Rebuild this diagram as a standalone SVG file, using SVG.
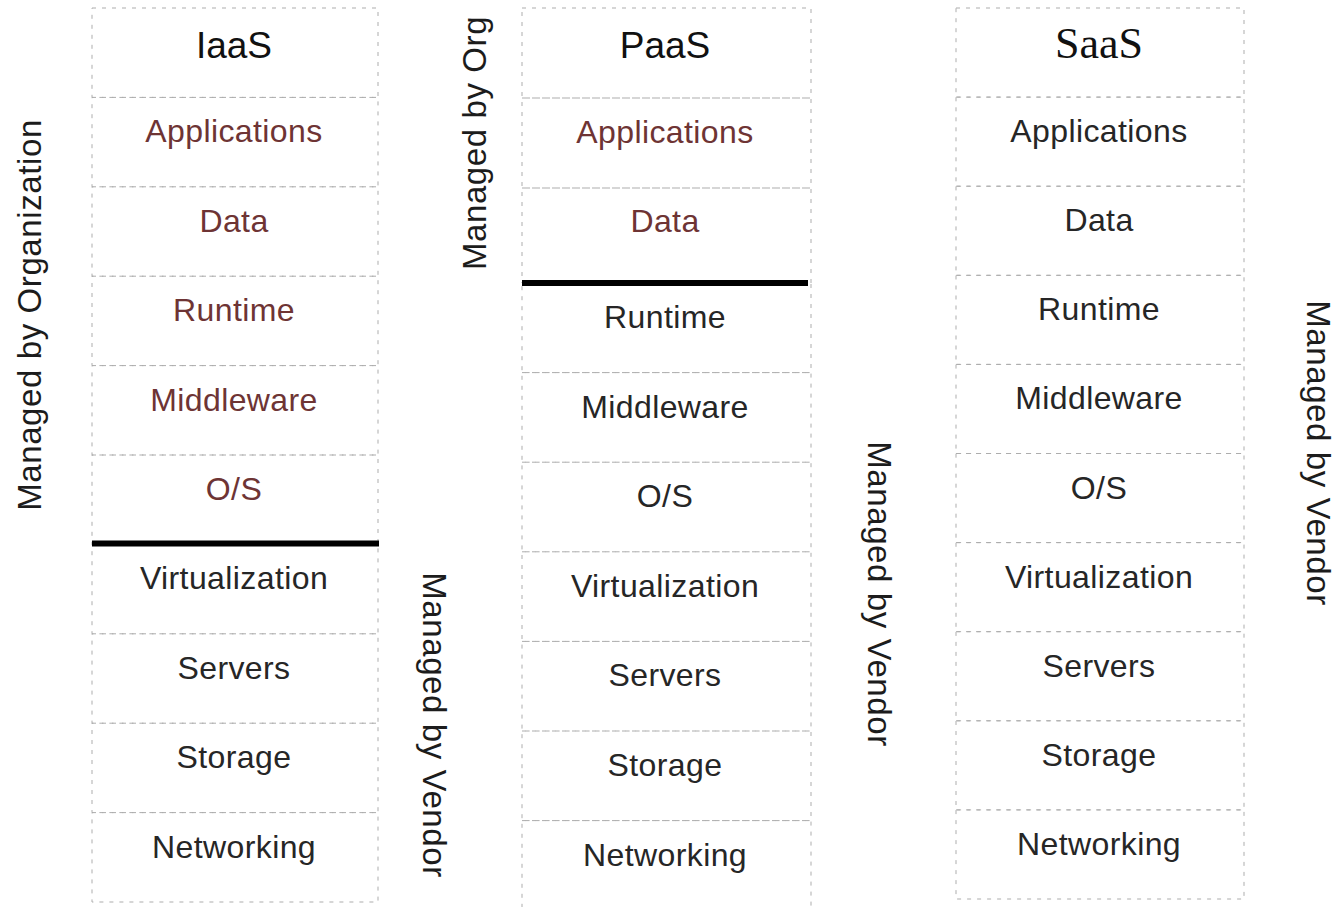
<svg xmlns="http://www.w3.org/2000/svg" width="1336" height="907" viewBox="0 0 1336 907">
  <style>
    .cell { fill: none; stroke: #adadad; stroke-width: 1; stroke-dasharray: 4 6; }
    .head { font-family: "Liberation Sans", Arial, sans-serif; font-size: 37px; fill: #111; text-anchor: middle; }
    .head-serif { font-family: "Liberation Serif", "Times New Roman", serif; font-size: 44px; fill: #111; text-anchor: middle; }
    .item { font-family: "Liberation Sans", Arial, sans-serif; font-size: 32px; letter-spacing: 0.4px; fill: #262626; text-anchor: middle; }
    .org { fill: #6e3434; }
    .side { font-family: "Liberation Sans", Arial, sans-serif; font-size: 33px; letter-spacing: 0.6px; fill: #1c1c1c; text-anchor: middle; }
    .divider { stroke: #000; stroke-width: 6; }
  </style>

  <!-- IaaS stack -->
  <g id="iaas">
    <g id="iaas-header"><rect class="cell" x="92" y="8" width="286" height="89.4"/><text class="head" x="234" y="58">IaaS</text></g>
    <g id="iaas-applications"><rect class="cell" x="92" y="97.4" width="286" height="89.4"/><text class="item org" x="234" y="142.4">Applications</text></g>
    <g id="iaas-data"><rect class="cell" x="92" y="186.8" width="286" height="89.4"/><text class="item org" x="234" y="231.8">Data</text></g>
    <g id="iaas-runtime"><rect class="cell" x="92" y="276.2" width="286" height="89.4"/><text class="item org" x="234" y="321.2">Runtime</text></g>
    <g id="iaas-middleware"><rect class="cell" x="92" y="365.6" width="286" height="89.4"/><text class="item org" x="234" y="410.6">Middleware</text></g>
    <g id="iaas-os"><rect class="cell" x="92" y="455" width="286" height="89.4"/><text class="item org" x="234" y="500">O/S</text></g>
    <g id="iaas-virtualization"><rect class="cell" x="92" y="544.4" width="286" height="89.4"/><text class="item" x="234" y="589.4">Virtualization</text></g>
    <g id="iaas-servers"><rect class="cell" x="92" y="633.8" width="286" height="89.4"/><text class="item" x="234" y="678.8">Servers</text></g>
    <g id="iaas-storage"><rect class="cell" x="92" y="723.2" width="286" height="89.4"/><text class="item" x="234" y="768.2">Storage</text></g>
    <g id="iaas-networking"><rect class="cell" x="92" y="812.6" width="286" height="89.4"/><text class="item" x="234" y="857.6">Networking</text></g>
  </g>

  <!-- PaaS stack -->
  <g id="paas">
    <g id="paas-header"><rect class="cell" x="522" y="8" width="289" height="90"/><text class="head" x="665" y="58">PaaS</text></g>
    <g id="paas-applications"><rect class="cell" x="522" y="98" width="289" height="90"/><text class="item org" x="665" y="143">Applications</text></g>
    <g id="paas-data"><rect class="cell" x="522" y="188" width="289" height="95"/><text class="item org" x="665" y="232">Data</text></g>
    <g id="paas-runtime"><rect class="cell" x="522" y="283" width="289" height="89.6"/><text class="item" x="665" y="328">Runtime</text></g>
    <g id="paas-middleware"><rect class="cell" x="522" y="372.6" width="289" height="89.6"/><text class="item" x="665" y="417.6">Middleware</text></g>
    <g id="paas-os"><rect class="cell" x="522" y="462.2" width="289" height="89.6"/><text class="item" x="665" y="507.2">O/S</text></g>
    <g id="paas-virtualization"><rect class="cell" x="522" y="551.8" width="289" height="89.6"/><text class="item" x="665" y="596.8">Virtualization</text></g>
    <g id="paas-servers"><rect class="cell" x="522" y="641.4" width="289" height="89.6"/><text class="item" x="665" y="686.4">Servers</text></g>
    <g id="paas-storage"><rect class="cell" x="522" y="731" width="289" height="89.6"/><text class="item" x="665" y="776">Storage</text></g>
    <g id="paas-networking"><rect class="cell" x="522" y="820.6" width="289" height="89.6"/><text class="item" x="665" y="865.6">Networking</text></g>
  </g>

  <!-- SaaS stack -->
  <g id="saas">
    <g id="saas-header"><rect class="cell" x="956" y="8" width="288" height="89.1"/><text class="head-serif" x="1099" y="58">SaaS</text></g>
    <g id="saas-applications"><rect class="cell" x="956" y="97.1" width="288" height="89.1"/><text class="item" x="1099" y="142.1">Applications</text></g>
    <g id="saas-data"><rect class="cell" x="956" y="186.2" width="288" height="89.1"/><text class="item" x="1099" y="231.2">Data</text></g>
    <g id="saas-runtime"><rect class="cell" x="956" y="275.3" width="288" height="89.1"/><text class="item" x="1099" y="320.3">Runtime</text></g>
    <g id="saas-middleware"><rect class="cell" x="956" y="364.4" width="288" height="89.1"/><text class="item" x="1099" y="409.4">Middleware</text></g>
    <g id="saas-os"><rect class="cell" x="956" y="453.5" width="288" height="89.1"/><text class="item" x="1099" y="498.5">O/S</text></g>
    <g id="saas-virtualization"><rect class="cell" x="956" y="542.6" width="288" height="89.1"/><text class="item" x="1099" y="587.6">Virtualization</text></g>
    <g id="saas-servers"><rect class="cell" x="956" y="631.7" width="288" height="89.1"/><text class="item" x="1099" y="676.7">Servers</text></g>
    <g id="saas-storage"><rect class="cell" x="956" y="720.8" width="288" height="89.1"/><text class="item" x="1099" y="765.8">Storage</text></g>
    <g id="saas-networking"><rect class="cell" x="956" y="809.9" width="288" height="89.1"/><text class="item" x="1099" y="854.9">Networking</text></g>
  </g>

  <!-- responsibility split lines -->
  <g id="dividers">
    <line class="divider" x1="92" y1="543.5" x2="379" y2="543.5"/>
    <line class="divider" x1="522" y1="283" x2="808" y2="283"/>
  </g>

  <!-- side labels -->
  <g id="labels">
    <text class="side" transform="translate(41 315) rotate(-90)">Managed by Organization</text>
    <text class="side" transform="translate(486 143) rotate(-90)">Managed by Org</text>
    <text class="side" transform="translate(423 725) rotate(90)">Managed by Vendor</text>
    <text class="side" transform="translate(868 594) rotate(90)">Managed by Vendor</text>
    <text class="side" transform="translate(1307 453) rotate(90)">Managed by Vendor</text>
  </g>
</svg>
